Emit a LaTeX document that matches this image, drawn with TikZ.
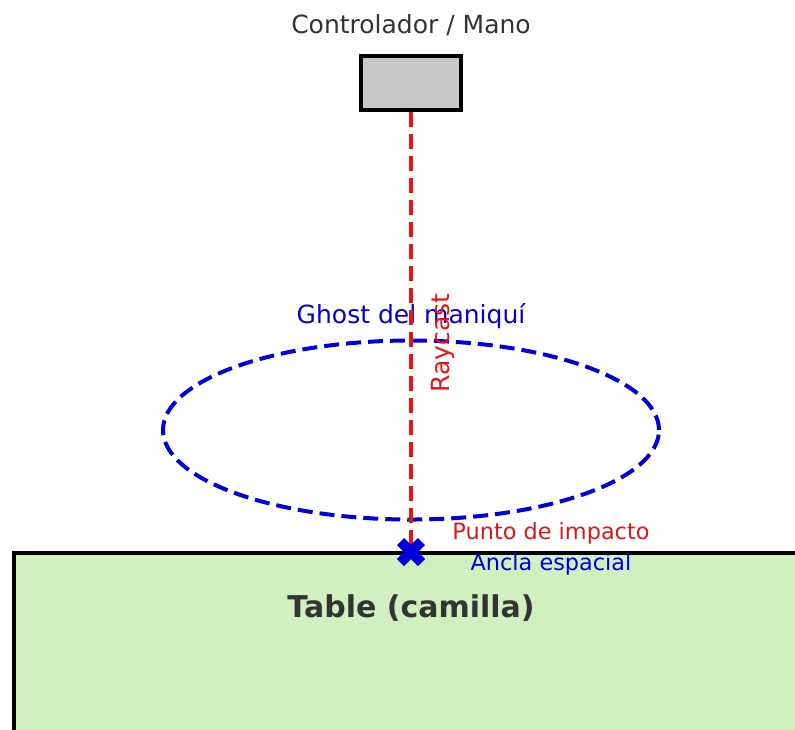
\documentclass[tikz,border=0pt]{standalone}
\usepackage{fontspec}
\setmainfont{DejaVu Sans}
\usetikzlibrary{positioning,shapes.geometric}

\definecolor{ghostblue}{RGB}{0,0,220}
\definecolor{rayred}{RGB}{235,20,20}
\definecolor{labelred}{RGB}{215,25,25}
\definecolor{tablegreen}{HTML}{D0F0C0}
\definecolor{boxgray}{HTML}{C8C8C8}
\definecolor{inkgray}{HTML}{333333}

\tikzset{
  lbl/.style={inner sep=0pt,anchor=base,font=\fontsize{12.5}{14}\selectfont},
  smalllbl/.style={inner sep=0pt,anchor=base,font=\fontsize{11.2}{13}\selectfont},
  raydash/.style={dash pattern=on 7.5pt off 3.5pt},
}

\begin{document}
\begin{tikzpicture}[x=0.5pt,y=-0.5pt]

			\clip (0,0) rectangle (795,729);
			\fill[white] (0,0) rectangle (795,729);

			% camilla
			\draw[line width=2pt,fill=tablegreen] (14,553) rectangle (830,760);
			\node[inner sep=0pt,anchor=base,text=inkgray,font=\fontsize{15}{17}\selectfont\bfseries] (tablelbl) at (411,617) {Table (camilla)};

			% ghost
			\node[ellipse,draw=ghostblue,line width=2pt,dashed,raydash,minimum width=248pt,minimum height=89.5pt,inner sep=0pt] (ghost) at (411,430) {};
			\node[lbl,text=ghostblue] (ghostlbl) at (411,323) {Ghost del maniquí};

			% controlador
			\node[draw,line width=2pt,fill=boxgray,minimum width=50pt,minimum height=27pt,inner sep=0pt] (ctrl) at (411,83) {};
			\node[lbl,text=inkgray] (ctrllbl) at (411,33) {Controlador / Mano};

			% raycast
			\coordinate (hit) at (411,552);
			\draw[rayred,line width=2.25pt,raydash] (ctrl.south) -- (hit);
			\node[inner sep=0pt,rotate=90,text=rayred,font=\fontsize{12.5}{14}\selectfont] (raylbl) at (443,343) {Raycast};

			% impacto
			\draw[ghostblue,line width=5pt] ([shift={(-10.5,-10.5)}]hit) -- ([shift={(10.5,10.5)}]hit);
			\draw[ghostblue,line width=5pt] ([shift={(-10.5,10.5)}]hit) -- ([shift={(10.5,-10.5)}]hit);
			\node[smalllbl,text=labelred] (hitlbl) at (551,539) {Punto de impacto};
			\node[smalllbl,text=ghostblue] (anchorlbl) at (551,570) {Ancla espacial};

\end{tikzpicture}
\end{document}
